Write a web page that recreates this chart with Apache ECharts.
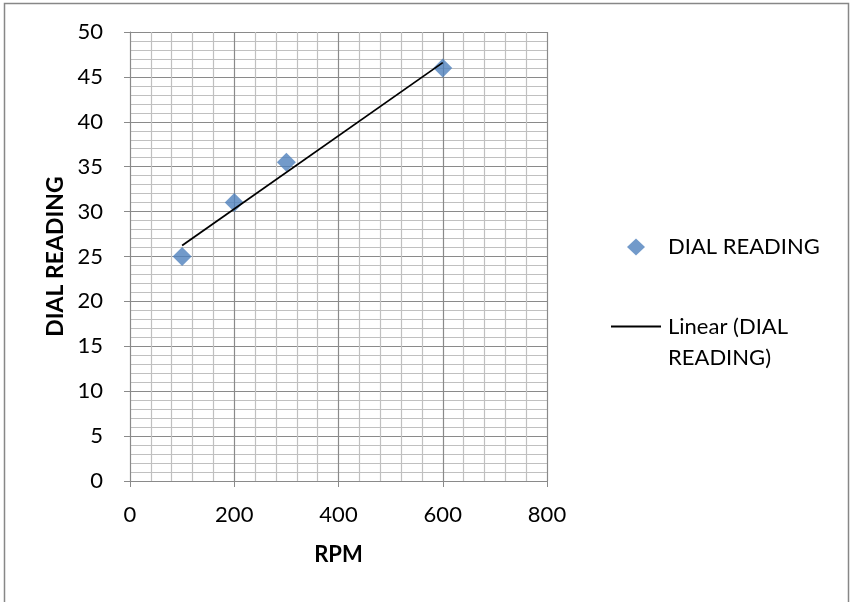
<!DOCTYPE html>
<html>
<head>
<meta charset="utf-8">
<script src="https://cdn.jsdelivr.net/npm/echarts@6/dist/echarts.min.js"></script>
<style>
  html, body { margin: 0; padding: 0; background: #fff; }
  #chart { width: 850px; height: 602px; }
</style>
</head>
<body>
<div id="chart"></div>
<script>
// Measured values
const rpm = [100, 200, 300, 600];
const dialReading = [25, 31, 35.5, 46];

const seriesName = 'DIAL READING';
const trendName = 'Linear (DIAL\nREADING)';
const xTitle = 'RPM';
const yTitle = 'DIAL READING';

// Least-squares linear fit through the measured points
function linearFit(xs, ys) {
  const n = xs.length;
  const mx = xs.reduce((a, b) => a + b, 0) / n;
  const my = ys.reduce((a, b) => a + b, 0) / n;
  let sxy = 0, sxx = 0;
  for (let i = 0; i < n; i++) {
    sxy += (xs[i] - mx) * (ys[i] - my);
    sxx += (xs[i] - mx) * (xs[i] - mx);
  }
  const slope = sxy / sxx;
  return { slope, intercept: my - slope * mx };
}
const fit = linearFit(rpm, dialReading);
const xMin = Math.min(...rpm), xMax = Math.max(...rpm);
const trendPoints = [
  [xMin, fit.intercept + fit.slope * xMin],
  [xMax, fit.intercept + fit.slope * xMax]
];

const FONT = 'Lato';
const FS = 22;
const majorGrid = '#8a8a8a';
const minorGrid = '#c0c0c0';

const chart = echarts.init(document.getElementById('chart'));
chart.setOption({
  animation: false,
  backgroundColor: '#fff',
  textStyle: { fontFamily: FONT },
  graphic: [{
    type: 'rect',
    shape: { x: 4.5, y: 3.5, width: 844, height: 620 },
    style: { fill: 'none', stroke: '#878787', lineWidth: 1.5 },
    silent: true
  }],
  grid: { left: 130, top: 32, width: 417, height: 449, containLabel: false },
  xAxis: {
    type: 'value',
    min: 0, max: 800, interval: 200,
    name: xTitle,
    nameLocation: 'middle',
    nameGap: 63,
    nameTextStyle: { fontFamily: FONT, fontWeight: 'bold', fontSize: FS, color: '#000' },
    axisLine: { show: true, lineStyle: { color: majorGrid, width: 1 } },
    axisTick: { show: true, inside: false, length: 6, lineStyle: { color: majorGrid } },
    axisLabel: { margin: 23, fontFamily: FONT, fontSize: FS, color: '#000' },
    splitLine: { show: true, lineStyle: { color: majorGrid, width: 1.2 } },
    minorTick: { show: false, splitNumber: 5 },
    minorSplitLine: { show: true, lineStyle: { color: minorGrid, width: 1.2 } }
  },
  yAxis: {
    type: 'value',
    min: 0, max: 50, interval: 5,
    name: yTitle,
    nameLocation: 'middle',
    nameGap: 63,
    nameTextStyle: { fontFamily: FONT, fontWeight: 'bold', fontSize: 23, color: '#000' },
    axisLine: { show: true, lineStyle: { color: majorGrid, width: 1 } },
    axisTick: { show: true, inside: false, length: 6, lineStyle: { color: majorGrid } },
    axisLabel: { margin: 27, fontFamily: FONT, fontSize: FS, color: '#000' },
    splitLine: { show: true, lineStyle: { color: majorGrid, width: 1.2 } },
    minorTick: { show: false, splitNumber: 5 },
    minorSplitLine: { show: true, lineStyle: { color: minorGrid, width: 1.2 } }
  },
  legend: [{
    orient: 'vertical',
    left: 622, top: 231,
    itemWidth: 18, itemHeight: 17,
    data: [{ name: seriesName, icon: 'diamond' }],
    textStyle: { fontFamily: FONT, fontSize: FS, color: '#000', padding: [0, 0, 0, 18] }
  }, {
    orient: 'vertical',
    left: 606, top: 275,
    itemWidth: 50, itemHeight: 2,
    data: [{ name: trendName, icon: 'rect', itemStyle: { color: '#000' } }],
    // leading blank line keeps the icon level with the first text line
    formatter: (name) => ' \n' + name,
    textStyle: { fontFamily: FONT, fontSize: FS, color: '#000', lineHeight: 31, padding: [0, 0, 0, 2] }
  }],
  series: [{
    name: seriesName,
    type: 'scatter',
    symbol: 'diamond',
    symbolSize: 19,
    itemStyle: { color: '#4F81BD' },
    data: rpm.map((x, i) => [x, dialReading[i]]),
    z: 3
  }, {
    name: trendName,
    type: 'line',
    showSymbol: false,
    symbol: 'none',
    lineStyle: { color: '#000', width: 1.8 },
    itemStyle: { color: '#000' },
    data: trendPoints,
    z: 4
  }]
});
</script>
</body>
</html>
